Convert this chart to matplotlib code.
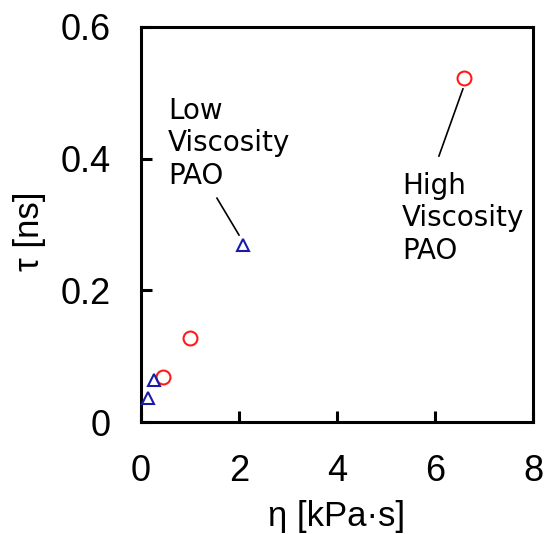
import matplotlib
matplotlib.use("Agg")
import matplotlib.pyplot as plt

high_eta = [0.45, 1.0, 6.59]
high_tau = [0.068, 0.128, 0.523]
low_eta = [0.14, 0.27, 2.08]
low_tau = [0.036, 0.064, 0.269]

xticks = [0, 2, 4, 6, 8]
yticks = [0, 0.2, 0.4, 0.6]
yticklabels = ["0", "0.2", "0.4", "0.6"]

plt.rcParams['font.family'] = ['Liberation Sans', 'DejaVu Sans']

fig = plt.figure(figsize=(5.44, 5.34), dpi=100)
ax = fig.add_axes([141/544, 1-422/534, (533-141)/544, (422-27)/534])

ax.plot(high_eta, high_tau, 'o', ms=10, mfc='none', mec='#ff1a1a', mew=1.5, clip_on=False, zorder=3)
ax.plot(low_eta, low_tau, '^', ms=9, mfc='none', mec='#1a1aaa', mew=1.5, clip_on=False, zorder=3)

ax.set_xlim(0, 8)
ax.set_ylim(0, 0.6)
ax.set_xticks(xticks)
ax.set_xticklabels([str(t) for t in xticks])
ax.set_yticks(yticks)
ax.set_yticklabels(yticklabels)

for s in ax.spines.values():
    s.set_linewidth(2.2)
ax.tick_params(direction='in', length=8, width=2.2, labelsize=26)
ax.tick_params(axis='x', pad=23)
ax.tick_params(axis='y', pad=22)

ax.set_xlabel("η [kPa·s]", fontsize=25, labelpad=8)
ax.set_ylabel("τ [ns]", fontsize=25, labelpad=10)
ax.yaxis.set_label_coords(-0.242, 0.482)

ax.plot([1.55, 2.0], [0.340, 0.284], color='black', lw=1.2)
ax.plot([6.57, 6.08], [0.506, 0.404], color='black', lw=1.2)
ax.text(0.55, 0.494, "Low\nViscosity\nPAO", fontsize=20, family='DejaVu Sans',
        va='top', ha='left', linespacing=1.2)
ax.text(5.33, 0.38, "High\nViscosity\nPAO", fontsize=20, family='DejaVu Sans',
        va='top', ha='left', linespacing=1.2)

fig.savefig("out.png", dpi=100)
